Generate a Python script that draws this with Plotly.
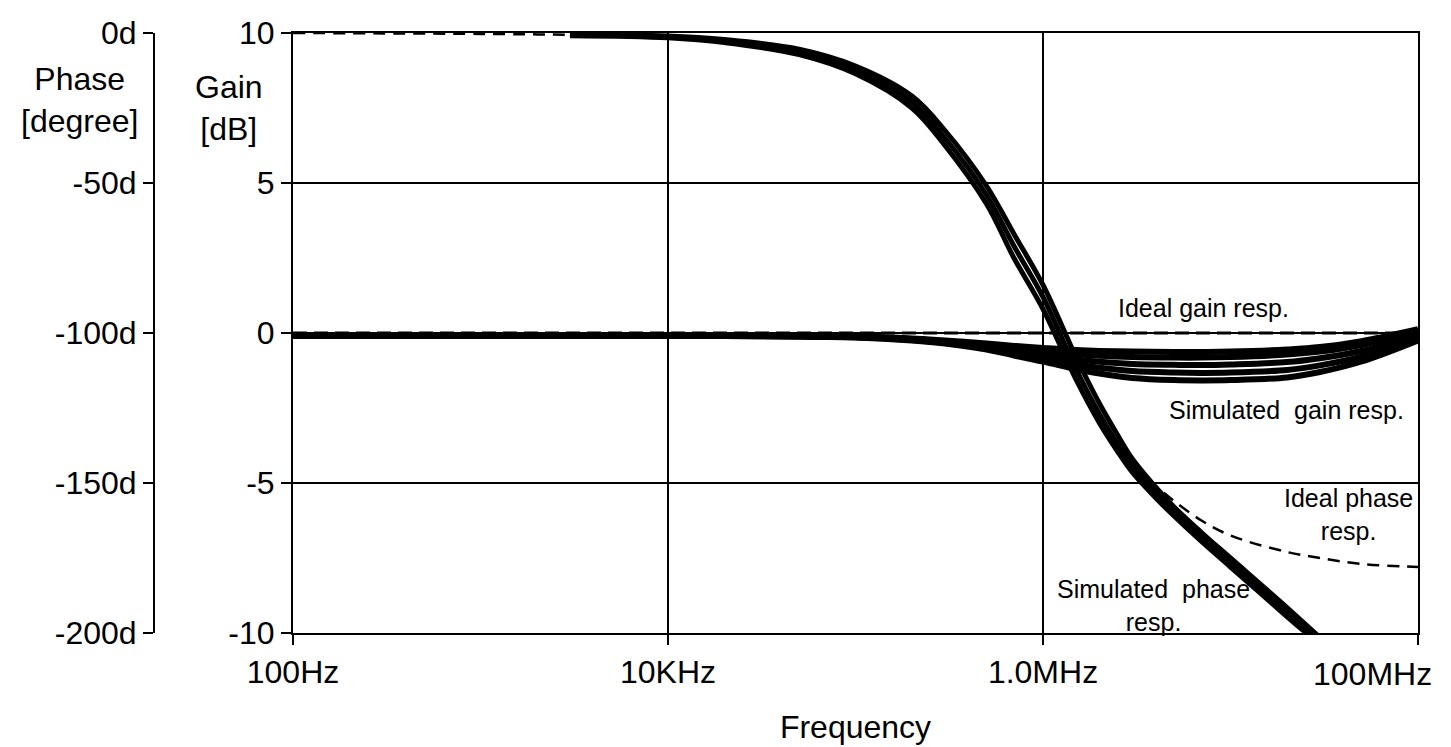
import plotly.graph_objects as go

# ---------------- data ----------------
FREQ = [100, 1e3, 3e3, 1e4, 2e4, 5e4, 1e5, 2e5, 3e5, 5e5, 7e5, 1e6, 1.5e6,
        2e6, 3e6, 5e6, 7e6, 1e7, 2e7, 3e7, 5e7, 1e8]

GAIN_SIM_1 = [-0.1, -0.1, -0.1, -0.1, -0.1, -0.11, -0.12, -0.18, -0.25, -0.35, -0.43, -0.5,
              -0.57, -0.6, -0.62, -0.63, -0.63, -0.62, -0.55, -0.47, -0.27, 0.13]
GAIN_SIM_2 = [-0.1, -0.1, -0.1, -0.1, -0.1, -0.11, -0.13, -0.2, -0.28, -0.4, -0.51, -0.61,
              -0.71, -0.76, -0.8, -0.82, -0.82, -0.8, -0.72, -0.62, -0.4, 0.06]
GAIN_SIM_3 = [-0.1, -0.1, -0.1, -0.1, -0.1, -0.11, -0.13, -0.21, -0.31, -0.45, -0.6, -0.73,
              -0.88, -0.96, -1.03, -1.06, -1.07, -1.05, -0.97, -0.84, -0.6, -0.05]
GAIN_SIM_4 = [-0.1, -0.1, -0.1, -0.1, -0.1, -0.11, -0.14, -0.23, -0.33, -0.5, -0.68, -0.85,
              -1.05, -1.16, -1.27, -1.32, -1.33, -1.32, -1.23, -1.08, -0.79, -0.15]
GAIN_SIM_5 = [-0.1, -0.1, -0.1, -0.1, -0.1, -0.12, -0.15, -0.25, -0.35, -0.55, -0.75, -0.95,
              -1.2, -1.35, -1.5, -1.57, -1.58, -1.57, -1.48, -1.3, -0.95, -0.25]

IDEAL_GAIN_FREQ = [100, 1e8]
IDEAL_GAIN = [0, 0]

IDEAL_PHASE_FREQ = [100, 1e3, 3e3, 1e4, 2e4, 5e4, 1e5, 2e5, 3e5, 5e5, 7e5, 1e6, 1.5e6,
                    2e6, 2.5e6, 3e6, 4e6, 5e6, 7e6, 1e7, 2e7, 3e7, 5e7, 1e8]
IDEAL_PHASE = [0, -0.3, -0.6, -1.3, -2.7, -6.3, -12.3, -23, -35, -54, -71, -88, -112,
               -127, -136.5, -143.5, -151, -156, -162.5, -167.5, -173, -175, -177, -178]

PHASE_FREQ = [3e3, 1e4, 2e4, 5e4, 1e5, 2e5, 3e5, 5e5, 7e5, 1e6, 1.5e6, 2e6, 2.5e6, 3e6,
              4e6, 5e6, 7e6, 1e7, 2e7, 3e7, 5e7]
PHASE_SIM_1 = [-0.5, -1.0, -2.2, -5.4, -11.0, -21.0, -32.5, -51, -67, -84, -108, -123.5,
               -134, -142, -151.5, -158, -166.5, -175, -191.5, -201.5, -214]
PHASE_SIM_2 = [-0.7, -1.3, -2.7, -6.3, -12.3, -23, -35, -54, -71, -88, -112, -127,
               -137, -144.5, -153.5, -159.5, -168, -176.5, -193, -202.7, -215]
PHASE_SIM_3 = [-0.9, -1.6, -3.2, -7.2, -13.6, -25, -37.5, -57, -75, -92, -115.5, -130,
               -139.5, -146.5, -155, -161, -169.5, -178, -194.5, -204, -216.5]

X_TICKS = [100, 1e4, 1e6, 1e8]
X_TICK_TEXT = ["100Hz", "10KHz", "1.0MHz", ""]
X_LAST_LABEL = "100MHz"
GAIN_TICKS = [-10, -5, 0, 5, 10]
GAIN_TICK_TEXT = ["-10", "-5", "0", "5", "10"]
PHASE_TICKS = [0, -50, -100, -150, -200]
PHASE_TICK_TEXT = ["0d", "-50d", "-100d", "-150d", "-200d"]

# ---------------- layout geometry ----------------
W, H = 1451, 747
L, R, T, B = 154, 33, 33, 114
PW = W - L - R
PH = H - T - B
GAIN_AXIS_PX = 293
xdom0 = (GAIN_AXIS_PX - L) / PW

def px(x):
    return (x - L) / PW

def py(y):
    return (H - B - y) / PH

FONT = "Liberation Sans, Arial, sans-serif"
TICK_SIZE = 32

fig = go.Figure()

# simulated gain curves
for g in [GAIN_SIM_1, GAIN_SIM_2, GAIN_SIM_3, GAIN_SIM_4, GAIN_SIM_5]:
    fig.add_trace(go.Scatter(x=FREQ, y=g, mode="lines", line=dict(color="black", width=6, shape="spline"),
                             hoverinfo="skip", showlegend=False))

# ideal gain
fig.add_trace(go.Scatter(x=IDEAL_GAIN_FREQ, y=IDEAL_GAIN, mode="lines",
                         line=dict(color="black", width=3, dash="14px,7px"),
                         showlegend=False))

# simulated phase curves
for p in [PHASE_SIM_1, PHASE_SIM_2, PHASE_SIM_3]:
    fig.add_trace(go.Scatter(x=PHASE_FREQ, y=p, yaxis="y2", mode="lines",
                             line=dict(color="black", width=5, shape="spline"),
                             showlegend=False))

# ideal phase
fig.add_trace(go.Scatter(x=IDEAL_PHASE_FREQ, y=IDEAL_PHASE, yaxis="y2", mode="lines",
                         line=dict(color="black", width=2.5, dash="12px,8px", shape="spline"),
                         showlegend=False))

axis_common = dict(showline=True, linecolor="black", linewidth=2, ticks="outside",
                   ticklen=10, tickwidth=2, tickcolor="black", automargin=False,
                   tickfont=dict(family=FONT, size=TICK_SIZE, color="black"))

fig.update_layout(
    width=W, height=H,
    margin=dict(l=L, r=R, t=T, b=B, autoexpand=False),
    paper_bgcolor="white", plot_bgcolor="white",
    showlegend=False,
    xaxis=dict(type="log", range=[2, 8], domain=[xdom0, 1], tickvals=X_TICKS, ticktext=X_TICK_TEXT,
               showgrid=True, gridcolor="black", gridwidth=2, mirror=True, zeroline=False,
               title=dict(text="Frequency", font=dict(family=FONT, size=TICK_SIZE, color="black"),
                          standoff=26),
               **axis_common),
    yaxis=dict(range=[-10, 10], tickvals=GAIN_TICKS, ticktext=GAIN_TICK_TEXT, showgrid=True,
               gridcolor="black", gridwidth=2, zeroline=False, mirror=True, **axis_common),
    yaxis2=dict(range=[-200, 0], tickvals=PHASE_TICKS, ticktext=PHASE_TICK_TEXT, overlaying="y",
                anchor="free", position=0, side="left", showgrid=False, zeroline=False,
                **axis_common),
)

ann_font = dict(family=FONT, size=25, color="black")
title_font = dict(family=FONT, size=TICK_SIZE, color="black")
annotations = [
    dict(text="Phase<br>[degree]", x=px(79), y=py(100), font=title_font),
    dict(text="Gain<br>[dB]", x=px(229), y=py(108), font=title_font),
    dict(text="Ideal gain resp.", x=px(1203), y=py(308), font=ann_font),
    dict(text="Simulated  gain resp.", x=px(1286), y=py(410), font=ann_font),
    dict(text="Ideal phase<br>resp.", x=px(1348), y=py(514), font=ann_font),
    dict(text="Simulated  phase<br>resp.", x=px(1153), y=py(605), font=ann_font),
    dict(text=X_LAST_LABEL, x=px(1372), y=py(674), font=title_font),
]
for a in annotations:
    fig.add_annotation(xref="paper", yref="paper", showarrow=False, xanchor="center",
                       yanchor="middle", align="center", **a)

fig.write_html("out.html")
